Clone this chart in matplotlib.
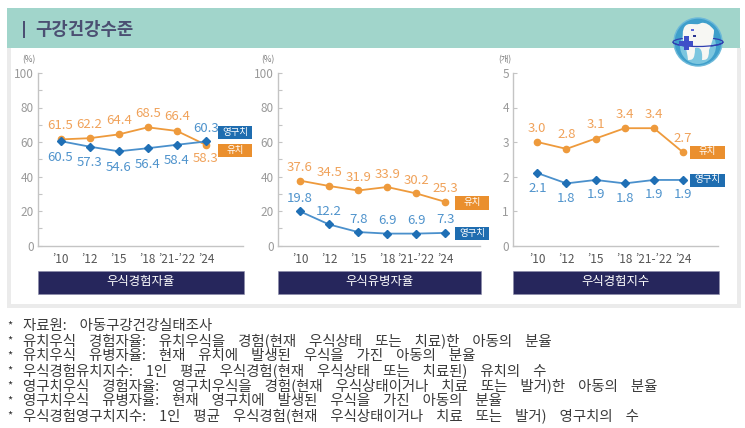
import matplotlib
matplotlib.use("Agg")
import matplotlib.pyplot as plt
from matplotlib.patches import Rectangle, Circle, Ellipse, Arc, PathPatch
from matplotlib.path import Path

KR = "Noto Sans CJK KR"
NARROW = ["Liberation Sans Narrow", KR]
plt.rcParams["font.family"] = [KR, "DejaVu Sans"]

W, H = 745, 428

years = ["’10", "’12", "’15", "’18", "’21-’22", "’24"]

# 우식경험자율
exp_baby = [61.5, 62.2, 64.4, 68.5, 66.4, 58.3]
exp_perm = [60.5, 57.3, 54.6, 56.4, 58.4, 60.3]
# 우식유병자율
prev_baby = [37.6, 34.5, 31.9, 33.9, 30.2, 25.3]
prev_perm = [19.8, 12.2, 7.8, 6.9, 6.9, 7.3]
# 우식경험지수
idx_baby = [3.0, 2.8, 3.1, 3.4, 3.4, 2.7]
idx_perm = [2.1, 1.8, 1.9, 1.8, 1.9, 1.9]

notes = [
    "자료원: 아동구강건강실태조사",
    "유치우식 경험자율: 유치우식을 경험(현재 우식상태 또는 치료)한 아동의 분율",
    "유치우식 유병자율: 현재 유치에 발생된 우식을 가진 아동의 분율",
    "우식경험유치지수: 1인 평균 우식경험(현재 우식상태 또는 치료된) 유치의 수",
    "영구치우식 경험자율: 영구치우식을 경험(현재 우식상태이거나 치료 또는 발거)한 아동의 분율",
    "영구치우식 유병자율: 현재 영구치에 발생된 우식을 가진 아동의 분율",
    "우식경험영구치지수: 1인 평균 우식경험(현재 우식상태이거나 치료 또는 발거) 영구치의 수",
]

ORANGE = "#ee9a3c"
ORANGE_TXT = "#f0a25a"
BLUE = "#1f6fb5"
BLUE_LINE = "#4a90cc"
BLUE_TXT = "#4f93cc"
NAVY = "#26265c"
TAG_ORANGE = "#ea8f2e"
TAG_BLUE = "#1f6db0"

fig = plt.figure(figsize=(W / 100, H / 100), dpi=100, facecolor="white")

bg = fig.add_axes([0, 0, 1, 1])
bg.set_xlim(0, W)
bg.set_ylim(H, 0)
bg.axis("off")

# frame and header
bg.add_patch(Rectangle((7, 48), 734, 260, fc="#ebebeb", ec="none"))
bg.add_patch(Rectangle((11, 48), 726, 256, fc="white", ec="none"))
bg.add_patch(Rectangle((7, 8), 733, 40, fc="#a1d5cb", ec="none"))
bg.add_patch(Rectangle((23, 21), 2, 17, fc="#4b4f72", ec="none"))
bg.text(35, 29.5, "구강건강수준", fontsize=12.8, color="#4b4f72", va="center", ha="left", fontweight="bold")

# tooth icon
bg.add_patch(Circle((698, 42), 24, fc="#3f9fcb", ec="#6db9d9", lw=1))
bg.add_patch(Circle((698, 46), 18, fc="#7cc6df", ec="none"))
bg.add_patch(Ellipse((698, 42), 50, 9, fc="none", ec="#2f3fb0", lw=0.9))
verts = [(690, 24), (683, 24), (682, 32), (683, 40), (685, 46), (687, 50), (688, 60), (692, 60),
         (695, 60), (695, 48), (699, 47), (703, 48), (702, 60), (706, 60),
         (709, 60), (709, 50), (711, 45), (714, 38), (714, 30), (710, 25), (706, 22), (701, 23), (698, 25),
         (695, 24), (692, 24), (690, 24)]
codes = [Path.MOVETO] + [Path.CURVE4] * 24 + [Path.CLOSEPOLY]
bg.add_patch(PathPatch(Path(verts, codes), fc="#f7f7f3", ec="none"))
bg.add_patch(Arc((698, 42), 50, 9, theta1=0, theta2=180, ec="#2f3fb0", lw=0.9))
bg.add_patch(Rectangle((679, 40.5), 14, 5, fc="#3f4fc8", ec="none"))
bg.add_patch(Rectangle((683.5, 36), 5, 14, fc="#3f4fc8", ec="none"))
bg.add_patch(Rectangle((691, 29), 3, 2, fc="#5a68d8", ec="none"))
bg.add_patch(Rectangle((692.5, 34.5), 3, 2.5, fc="#2a3590", ec="none"))


def tag(x, y, w, h, label, color):
    bg.add_patch(Rectangle((x, y), w, h, fc=color, ec="none"))
    bg.text(x + w / 2, y + h / 2 - 0.5, label, color="white", fontsize=6.8, ha="center", va="center")


def panel(left, right, x0, step, ymax, yticks, minor, unit, unit_x, baby, perm, baby_dy, perm_dy, title, fmt):
    top, bottom = 73.0, 245.5
    ax = fig.add_axes([left / W, 1 - bottom / H, (right - left) / W, (bottom - top) / H])
    ax.patch.set_alpha(0)
    ax.set_xlim((left - x0) / step, (right - x0) / step)
    ax.set_ylim(0, ymax)
    xs = range(len(years))
    ax.plot(xs, baby, color=ORANGE, lw=1.3, marker="o", ms=4.5, mfc=ORANGE, mec=ORANGE, clip_on=False)
    ax.plot(xs, perm, color=BLUE_LINE, lw=1.3, zorder=3)
    ax.plot(xs, perm, ls="none", marker="D", ms=3.6, mfc=BLUE, mec=BLUE, zorder=4, clip_on=False)
    # dy values are pixels downwards, annotate offsets go up in points
    for i, v in enumerate(baby):
        ax.annotate(fmt % v, (i, v), xytext=(0, -baby_dy[i] * 0.72), textcoords="offset points",
                    ha="center", va="center", color=ORANGE_TXT, fontsize=9.5, family=NARROW)
    for i, v in enumerate(perm):
        ax.annotate(fmt % v, (i, v), xytext=(0, -perm_dy[i] * 0.72), textcoords="offset points",
                    ha="center", va="center", color=BLUE_TXT, fontsize=9.5, family=NARROW)
    for s in ["top", "right"]:
        ax.spines[s].set_visible(False)
    for s in ["left", "bottom"]:
        ax.spines[s].set_color("#c4c4c4")
        ax.spines[s].set_linewidth(1.0)
    ax.set_yticks(yticks)
    ax.set_yticks(minor, minor=True)
    ax.tick_params(axis="y", which="both", direction="in", length=3, width=0.8, color="#c4c4c4",
                   labelcolor="#9a9a9a", labelsize=8.5, pad=3)
    ax.set_xticks(list(xs))
    ax.set_xticklabels(years, family=NARROW, fontsize=8.5, color="#555555")
    ax.tick_params(axis="x", length=0, pad=5.5)
    for t in ax.get_yticklabels():
        t.set_family(NARROW)
    bg.text(unit_x, 60, unit, fontsize=6, color="#777777", ha="center", va="center", family=NARROW)
    bg.add_patch(Rectangle((left, 270.5), right - left + 1, 23.5, fc=NAVY, ec="#8a8aa8", lw=0.4))
    bg.text((left + right) / 2, 282, title, color="white", fontsize=8.9, ha="center", va="center")


panel(38, 243, 60.5, 29.1, 100, [0, 20, 40, 60, 80, 100], [10, 30, 50, 70, 90], "(%)", 29,
      exp_baby, exp_perm, [-14, -14, -14, -14, -14, 14], [16, 16, 16, 16, 16, -13],
      "우식경험자율", "%.1f")
panel(278, 480, 300, 29.05, 100, [0, 20, 40, 60, 80, 100], [10, 30, 50, 70, 90], "(%)", 268,
      prev_baby, prev_perm, [-13] * 6, [-13] * 6,
      "우식유병자율", "%.1f")
panel(513, 718, 537.3, 29.15, 5, [0, 1, 2, 3, 4, 5], [], "(개)", 505,
      idx_baby, idx_perm, [-14] * 6, [15] * 6,
      "우식경험지수", "%.1f")

tag(218, 126, 34, 13, "영구치", TAG_BLUE)
tag(218, 144, 34, 13, "유치", TAG_ORANGE)
tag(455, 196, 34, 13.5, "유치", TAG_ORANGE)
tag(455, 227, 34, 13, "영구치", TAG_BLUE)
tag(690, 145.5, 35, 13, "유치", TAG_ORANGE)
tag(690, 174, 35, 12.5, "영구치", TAG_BLUE)

# footnotes, word gaps are wide in the original
for i, line in enumerate(notes):
    y = 330 + i * 15.1
    bg.text(10, y - 5, "*", fontsize=8, color="#333333", ha="center", va="center")
    bg.text(23, y, line.replace(" ", "    "), fontsize=10.4, color="#3a3a3a", ha="left", va="baseline")

fig.savefig("out.png", dpi=100)
